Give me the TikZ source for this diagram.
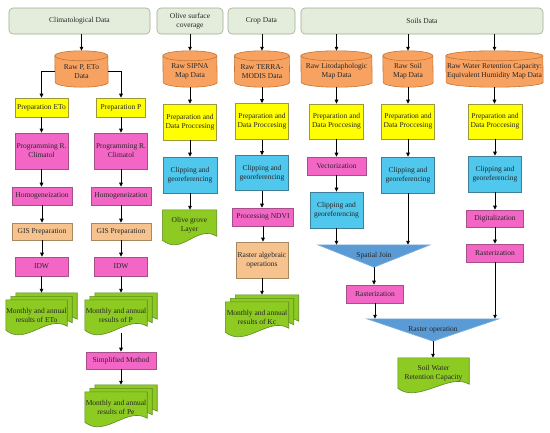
\documentclass[tikz,border=0pt]{standalone}
\usepackage{fontspec}
\setmainfont{Liberation Serif}
\usetikzlibrary{arrows.meta, backgrounds}
\definecolor{hdr-fill}{HTML}{E4ECDC}
\definecolor{hdr-line}{HTML}{9FAF92}
\definecolor{cyl-fill}{HTML}{F8A262}
\definecolor{cyl-line}{HTML}{C5742F}
\definecolor{prep-fill}{HTML}{FFFF00}
\definecolor{prep-line}{HTML}{9A9A3A}
\definecolor{proc-fill}{HTML}{F466C6}
\definecolor{proc-line}{HTML}{A6508A}
\definecolor{gis-fill}{HTML}{F6C38E}
\definecolor{gis-line}{HTML}{A8885E}
\definecolor{clip-fill}{HTML}{50C8EE}
\definecolor{clip-line}{HTML}{3E7E98}
\definecolor{doc-fill}{HTML}{8DCB22}
\definecolor{doc-line}{HTML}{5C8A1E}
\definecolor{merge-fill}{HTML}{5B9BD5}
\definecolor{merge-line}{HTML}{7DAFDF}

\begin{document}
\begin{tikzpicture}[x=1pt, y=-1pt,
        every node/.style={font=\fontsize{7.5}{9}\selectfont, align=center, inner sep=1pt, text=black!85},
        header/.style={draw=hdr-line, fill=hdr-fill, rounded corners=4pt, line width=0.6pt, minimum height=26},
        rawdata/.style={minimum height=31, inner xsep=0pt},
        cylsheet/.style={draw=cyl-line, fill=cyl-fill, line width=0.6pt},
        prepbox/.style={draw=prep-line, fill=prep-fill, line width=0.6pt, minimum width=53, minimum height=35},
        procbox/.style={draw=proc-line, fill=proc-fill, line width=0.6pt, minimum width=53, minimum height=18},
        gisbox/.style={draw=gis-line, fill=gis-fill, line width=0.6pt, minimum width=60, minimum height=17},
        clipbox/.style={draw=clip-line, fill=clip-fill, line width=0.6pt, minimum width=53, minimum height=36},
        docbox/.style={minimum height=30, inner xsep=0pt},
        docsheet/.style={draw=doc-line, fill=doc-fill, line width=0.6pt},
        mergebox/.style={minimum height=22},
        mergesheet/.style={draw=merge-line, fill=merge-fill, line width=0.6pt},
        flow/.style={-{Triangle[length=4pt, width=3.6pt]}, line width=0.9pt, black}]
      \useasboundingbox (0,0) rectangle (550,432);
      % headers
      \node[header, minimum width=141] (clim) at (79.5,21) {Climatological Data};
      \node[header, minimum width=66] (olive) at (190,21) {Olive surface\\coverage};
      \node[header, minimum width=67] (crop) at (261.5,21) {Crop Data};
      \node[header, minimum width=242] (soils) at (422,21) {Soils Data};
      % raw data
      \node[rawdata, minimum width=53] (rawP) at (81.5,71.5) {Raw P, ETo\\Data};
      \node[rawdata, minimum width=54] (rawSIPNA) at (190,71.5) {Raw SIPNA\\Map Data};
      \node[rawdata, minimum width=55] (rawTM) at (262,71.5) {Raw TERRA-\\MODIS Data};
      \node[rawdata, minimum width=71] (rawLito) at (336.5,71.5) {Raw Litodaphologic\\Map Data};
      \node[rawdata, minimum width=50] (rawSoil) at (408,71.5) {Raw Soil\\Map Data};
      \node[rawdata, minimum width=97] (rawWR) at (494.5,71.5) {Raw Water Retention Capacity:\\Equivalent Humidity Map Data};
      % climatological data
      \node[prepbox, minimum height=19] (prepETo) at (41.5,107.5) {Preparation ETo};
      \node[procbox, minimum height=36] (progETo) at (41.5,151) {Programming R.\\Climatol};
      \node[procbox, minimum width=60] (homETo) at (42,196) {Homogeneization};
      \node[gisbox] (gisETo) at (42,231.5) {GIS Preparation};
      \node[procbox, minimum height=19] (idwETo) at (41.5,266.5) {IDW};
      \node[docbox, minimum width=61] (resETo) at (36.5,315) {Monthly and annual\\results of ETo};
      \node[prepbox, minimum width=49, minimum height=19] (prepP) at (121,107.5) {Preparation P};
      \node[procbox, minimum height=36] (progP) at (121,151) {Programming R.\\Climatol};
      \node[procbox, minimum width=60] (homP) at (121,196) {Homogeneization};
      \node[gisbox] (gisP) at (121,231.5) {GIS Preparation};
      \node[procbox, minimum height=19] (idwP) at (121,266.5) {IDW};
      \node[docbox, minimum width=62] (resP) at (116,315) {Monthly and annual\\results of P};
      \node[procbox, minimum width=70, minimum height=17] (simpl) at (121,360.5) {Simplified Method};
      \node[docbox, minimum width=62] (resPe) at (116,407) {Monthly and annual\\results of Pe};
      % olive surface coverage
      \node[prepbox, minimum height=36] (prepOl) at (190,122) {Preparation and\\Data Proccesing};
      \node[clipbox, minimum width=54] (clipOl) at (190,175) {Clipping and\\georeferencing};
      \node[docbox, minimum width=54] (oliveLayer) at (189.5,225) {Olive grove\\Layer};
      % crop data
      \node[prepbox, minimum height=36] (prepCr) at (262,121.5) {Preparation and\\Data Proccesing};
      \node[clipbox, minimum height=35] (clipCr) at (262,173) {Clipping and\\georeferencing};
      \node[procbox, minimum width=61] (ndvi) at (263,217) {Processing NDVI};
      \node[gisbox, minimum width=52, minimum height=36] (rasAlg) at (262,260) {Raster algebraic\\operations};
      \node[docbox, minimum width=63] (resKc) at (257,317) {Monthly and annual\\results of Kc};
      % soils data
      \node[prepbox, minimum width=54] (prepLito) at (336.5,121.5) {Preparation and\\Data Proccesing};
      \node[procbox, minimum width=59] (vect) at (336.5,166) {Vectorization};
      \node[clipbox] (clipLito) at (336.5,210) {Clipping and\\georeferencing};
      \node[prepbox] (prepSoil) at (408,121.5) {Preparation and\\Data Proccesing};
      \node[clipbox] (clipSoil) at (408,175) {Clipping and\\georeferencing};
      \node[mergebox, minimum width=112] (sjoin) at (374,256) {Spatial Join};
      \node[procbox, minimum width=57] (rastL) at (375,294) {Rasterization};
      \node[prepbox, minimum width=54] (prepWR) at (495,121.5) {Preparation and\\Data Proccesing};
      \node[clipbox] (clipWR) at (495,174) {Clipping and\\georeferencing};
      \node[procbox, minimum width=57, minimum height=17] (digit) at (495,218.5) {Digitalization};
      \node[procbox, minimum width=57] (rastWR) at (495,253) {Rasterization};
      \node[mergebox, minimum width=132] (rop) at (433,330) {Raster operation};
      \node[docbox, minimum width=71] (swrc) at (433.5,373) {Soil Water\\Retention Capacity};
      % cylinders, document sheets and merge triangles
      \begin{scope}[on background layer]
        \fill[white] (0,0) rectangle (550,432);
        \foreach \n/\w in {rawP/53, rawSIPNA/54, rawTM/55, rawLito/71, rawSoil/50, rawWR/97} {
          \filldraw[cylsheet] (\n.north west) arc[start angle=180, end angle=0, x radius=\w/2*1pt, y radius=5pt]
            -- ([yshift=5pt]\n.south east) arc[start angle=0, end angle=-180, x radius=\w/2*1pt, y radius=5pt] -- cycle;
          \draw[cylsheet, fill=none] (\n.north west) arc[start angle=180, end angle=360, x radius=\w/2*1pt, y radius=5pt];
        }
        \foreach \n/\k in {resETo/2, resP/2, resPe/2, resKc/2, oliveLayer/0, swrc/0}
          \foreach \s in {\k,...,0}
            \filldraw[docsheet] ([shift={(5*\s,-3.5*\s)}]\n.north west) -- ([shift={(5*\s,-3.5*\s)}]\n.north east)
              -- ([shift={(5*\s,-3.5*\s)}, yshift=4pt]\n.south east) .. controls +(-20,-12) and +(20,16) .. ([shift={(5*\s,-3.5*\s)}]\n.south west) -- cycle;
        \foreach \n in {sjoin, rop}
          \filldraw[mergesheet] (\n.north west) -- (\n.north east) -- (\n.south) -- cycle;
      \end{scope}
      % connectors
      \foreach \h/\c in {clim/rawP, olive/rawSIPNA, crop/rawTM, soils/rawLito, soils/rawSoil, soils/rawWR}
        \draw[flow] (\c.north |- \h.south) -- ([yshift=5pt]\c.north);
      \draw[flow] (rawP.west) -| (prepETo.north);
      \draw[flow] (rawP.east) -| (prepP.north);
      \foreach \a/\b in {prepETo/progETo, progETo/homETo, homETo/gisETo, gisETo/idwETo,
          prepP/progP, progP/homP, homP/gisP, gisP/idwP,
          rawSIPNA/prepOl, prepOl/clipOl, clipOl/oliveLayer,
          rawTM/prepCr, prepCr/clipCr, clipCr/ndvi, ndvi/rasAlg,
          rawLito/prepLito, prepLito/vect, vect/clipLito, clipLito/sjoin,
          rawSoil/prepSoil, prepSoil/clipSoil, clipSoil/sjoin, sjoin/rastL, rastL/rop,
          rawWR/prepWR, prepWR/clipWR, clipWR/digit, digit/rastWR, rastWR/rop, rop/swrc}
        \draw[flow] (\a.south) -- (\a.south |- \b.north);
      \foreach \a/\b in {idwETo/resETo, idwP/resP, simpl/resPe, rasAlg/resKc}
        \draw[flow, shorten >=7pt] (\a.south) -- (\a.south |- \b.north);
      \draw[flow, shorten <=2.5pt] (simpl.north |- resP.south) -- (simpl.north);
    \end{tikzpicture}
\end{document}
